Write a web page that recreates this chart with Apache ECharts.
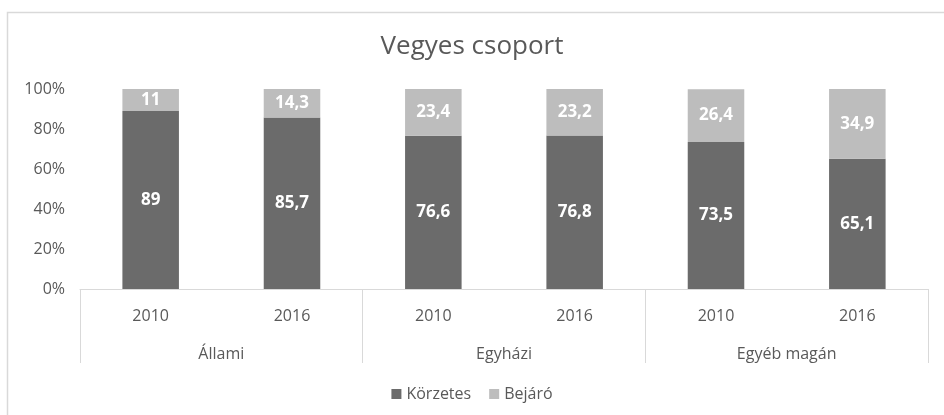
<!DOCTYPE html>
<html>
<head>
<meta charset="utf-8">
<script src="https://cdn.jsdelivr.net/npm/echarts@6/dist/echarts.min.js"></script>
<style>
  html, body { margin: 0; padding: 0; background: #fff; }
  #chart { width: 944px; height: 415px; }
</style>
</head>
<body>
<div id="chart"></div>
<script>
var years = ['2010', '2016', '2010', '2016', '2010', '2016'];
var groups = ['Állami', 'Egyházi', 'Egyéb magán'];
var korzetes = [89, 85.7, 76.6, 76.8, 73.5, 65.1];
var bejaro = [11, 14.3, 23.4, 23.2, 26.4, 34.9];
var yTicks = [0, 20, 40, 60, 80, 100];

var font = '"Open Sans", sans-serif';
var textColor = '#595959';
var lineColor = '#d9d9d9';

var myChart = echarts.init(document.getElementById('chart'));

var fmt = function (p) { return String(p.value).replace('.', ','); };

var option = {
    animation: false,
    textStyle: { fontFamily: font },
    title: {
        text: 'Vegyes csoport',
        left: 'center',
        top: 29,
        textStyle: { fontFamily: font, fontSize: 26, fontWeight: 'normal', color: textColor }
    },
    legend: {
        data: ['Körzetes', 'Bejáró'],
        top: 381,
        left: 'center',
        itemWidth: 10,
        itemHeight: 10,
        itemGap: 18,
        icon: 'rect',
        textStyle: { fontFamily: font, fontSize: 16, color: textColor }
    },
    graphic: [{
        type: 'polyline',
        shape: { points: [[7.5, 415], [7.5, 12.5], [944, 12.5]] },
        style: { stroke: lineColor, lineWidth: 1.5, fill: null }
    }],
    grid: { left: 80, right: 16, top: 89, bottom: 126 },
    xAxis: [{
        type: 'category',
        data: years,
        position: 'bottom',
        axisLine: { lineStyle: { color: lineColor } },
        axisTick: { show: false },
        axisLabel: { margin: 19, fontFamily: font, fontSize: 16, color: textColor }
    }, {
        type: 'category',
        data: groups,
        position: 'bottom',
        axisLine: { show: false },
        axisTick: { show: true, length: 74, lineStyle: { color: lineColor } },
        axisLabel: { margin: 57, fontFamily: font, fontSize: 16, color: textColor }
    }],
    yAxis: {
        type: 'value',
        min: yTicks[0],
        max: yTicks[yTicks.length - 1],
        interval: 20,
        axisLine: { show: false },
        axisTick: { show: false },
        splitLine: { show: false },
        axisLabel: { margin: 15, fontFamily: font, fontSize: 16, color: textColor, formatter: '{value}%' }
    },
    series: [{
        name: 'Körzetes',
        type: 'bar',
        stack: 'all',
        data: korzetes,
        barWidth: '40%',
        itemStyle: { color: '#6b6b6b' },
        label: { show: true, position: 'inside', color: '#fff', fontWeight: 'bold', fontSize: 17, fontFamily: font, formatter: fmt }
    }, {
        name: 'Bejáró',
        type: 'bar',
        stack: 'all',
        data: bejaro,
        barWidth: '40%',
        itemStyle: { color: '#bdbdbd' },
        label: { show: true, position: 'inside', color: '#fff', fontWeight: 'bold', fontSize: 17, fontFamily: font, formatter: fmt }
    }]
};

myChart.setOption(option);
</script>
</body>
</html>
